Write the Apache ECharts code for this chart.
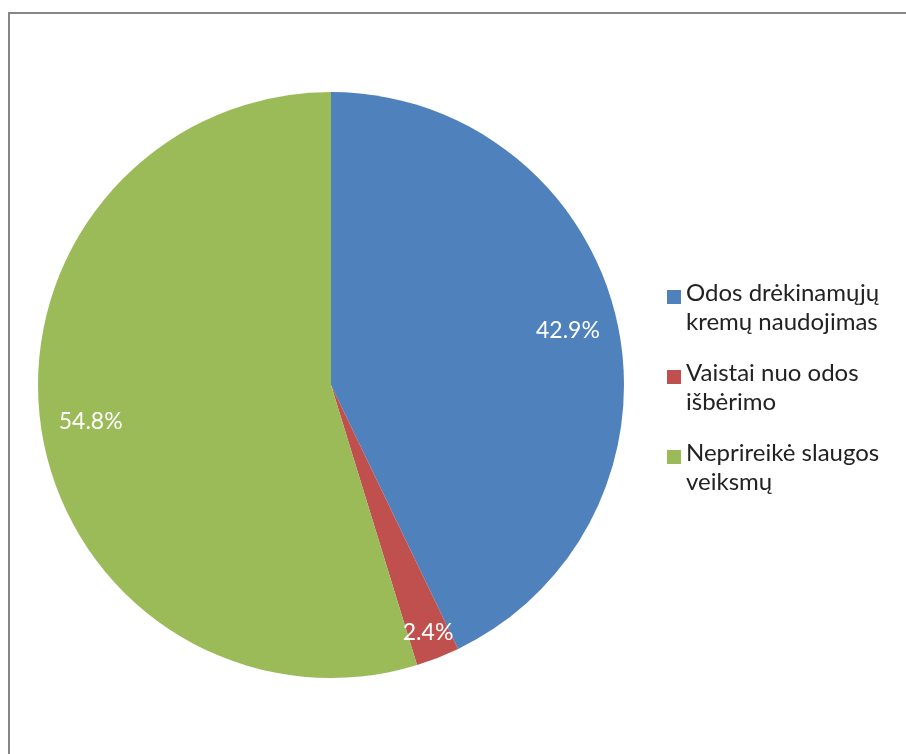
<!DOCTYPE html>
<html><head><meta charset="utf-8">
<script src="https://cdn.jsdelivr.net/npm/echarts@6/dist/echarts.min.js"></script>
<style>html,body{margin:0;padding:0;background:#fff}#c{width:906px;height:754px}</style>
</head><body><div id="c"></div>
<script>
const categories = ['Odos drėkinamųjų\nkremų naudojimas', 'Vaistai nuo odos\nišbėrimo', 'Neprireikė slaugos\nveiksmų'];
const values = [42.9, 2.4, 54.8];
const colors = ['#4F81BD', '#C0504D', '#9BBB59'];

const FONT = 'Lato, "Open Sans", sans-serif';
const chart = echarts.init(document.getElementById('c'), null, {renderer: 'canvas'});
const baseData = categories.map((n, i) => ({name: n, value: values[i], itemStyle: {color: colors[i]}}));
const labelFmt = p => p.value.toFixed(1) + '%';
chart.setOption({
  animation: false,
  graphic: [{type: 'rect', shape: {x: 9, y: 13, width: 1000, height: 1000}, style: {fill: 'none', stroke: '#868686', lineWidth: 2}, silent: true}],
  legend: {
    orient: 'vertical', left: 662, top: 274, itemGap: 22,
    itemWidth: 14, itemHeight: 58,
    icon: 'path://M0,11h14v14h-14z M0,0L0.001,0 M0,58L0.001,58',
    data: categories,
    textStyle: {fontFamily: FONT, fontSize: 24, color: '#222', lineHeight: 29}
  },
  series: [
    {type: 'pie', center: [331, 385], radius: 293, startAngle: 90, clockwise: true,
     label: {show: false}, labelLine: {show: false}, silent: true,
     data: baseData},
    {type: 'pie', center: [331, 385], radius: [187, 293], startAngle: 90, clockwise: true, silent: true,
     label: {show: true, position: 'inside', formatter: labelFmt, color: '#fff', fontFamily: FONT, fontSize: 23},
     labelLine: {show: false}, legendHoverLink: false,
     itemStyle: {color: 'rgba(0,0,0,0)'},
     data: categories.map((n, i) => ({name: n, value: values[i], itemStyle: {color: 'rgba(0,0,0,0)'}, label: {show: i !== 1}}))},
    {type: 'pie', center: [331, 385], radius: [233, 293], startAngle: 90, clockwise: true, silent: true,
     label: {show: true, position: 'inside', formatter: labelFmt, color: '#fff', fontFamily: FONT, fontSize: 23},
     labelLine: {show: false},
     itemStyle: {color: 'rgba(0,0,0,0)'},
     data: categories.map((n, i) => ({name: n, value: values[i], itemStyle: {color: 'rgba(0,0,0,0)'}, label: {show: i === 1}}))}
  ]
});
</script></body></html>
